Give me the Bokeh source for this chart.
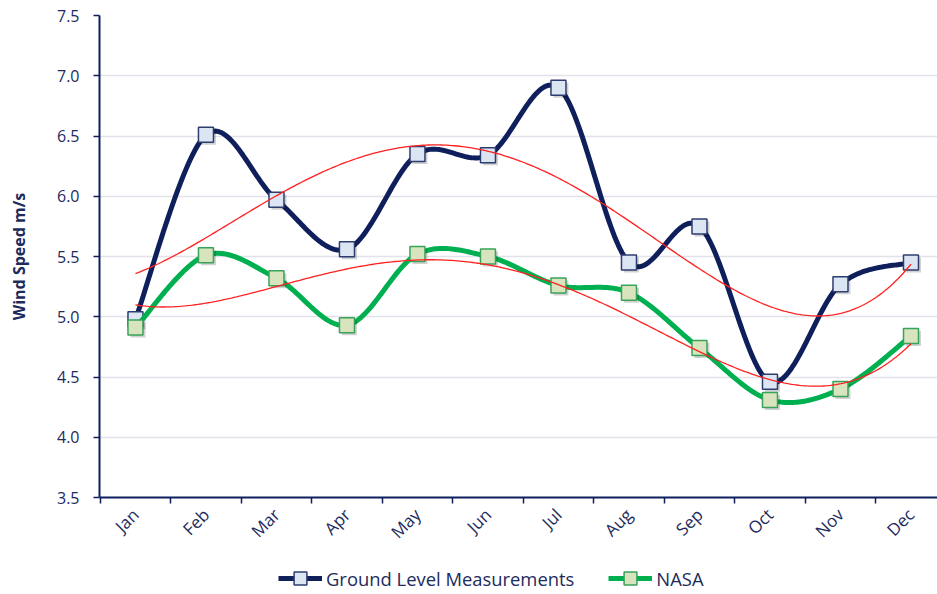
import numpy as np
from bokeh.plotting import figure
from bokeh.layouts import column
from bokeh.models import FixedTicker, Legend, LegendItem, Range1d
from bokeh.embed import file_html
from bokeh.resources import INLINE

months = ["Jan", "Feb", "Mar", "Apr", "May", "Jun", "Jul", "Aug", "Sep", "Oct", "Nov", "Dec"]
ground = [4.98, 6.51, 5.97, 5.56, 6.35, 6.34, 6.90, 5.45, 5.75, 4.46, 5.27, 5.45]
nasa = [4.91, 5.51, 5.32, 4.93, 5.52, 5.50, 5.26, 5.20, 4.74, 4.31, 4.40, 4.84]
y_ticks = [3.5, 4.0, 4.5, 5.0, 5.5, 6.0, 6.5, 7.0, 7.5]
y_tick_labels = ["3.5", "4.0", "4.5", "5.0", "5.5", "6.0", "6.5", "7.0", "7.5"]
series_names = ["Ground Level Measurements", "NASA"]
trend_order = 4

NAVY = "#0f1f5c"
TEXT = "#1d2a5c"
GREEN = "#00b050"
FONT = "Open Sans"
G_FILL, G_EDGE = "#dce6f2", "#2e3d70"
N_FILL, N_EDGE = "#d7e4bd", "#3aa35a"

x = np.arange(len(months), dtype=float)

# pixel scale of the frame (px per data unit), used so smoothing happens in screen space
SX, SY = 70.5, 120.5


def smooth(xv, yv, n=40):
    P = np.column_stack([np.asarray(xv) * SX, np.asarray(yv) * SY])
    out = []
    for i in range(len(P) - 1):
        p0 = P[i - 1] if i > 0 else P[i]
        p1, p2 = P[i], P[i + 1]
        p3 = P[i + 2] if i + 2 < len(P) else P[i + 1]
        c1 = p1 + (p2 - p0) / 6.0
        c2 = p2 - (p3 - p1) / 6.0
        t = np.linspace(0, 1, n)[:, None]
        seg = (1 - t) ** 3 * p1 + 3 * (1 - t) ** 2 * t * c1 + 3 * (1 - t) * t ** 2 * c2 + t ** 3 * p2
        out.append(seg if i == 0 else seg[1:])
    pts = np.vstack(out)
    return pts[:, 0] / SX, pts[:, 1] / SY


p = figure(width=937, height=556, x_range=Range1d(-0.51, 11.376), y_range=Range1d(3.5, 7.5),
           output_backend="svg", toolbar_location=None,
           min_border_left=99, min_border_right=0, min_border_top=15, min_border_bottom=59)
p.outline_line_color = None
p.background_fill_color = "white"

p.xgrid.visible = False
p.ygrid.ticker = FixedTicker(ticks=y_ticks[1:])
p.ygrid.grid_line_color = "#e2e2ea"
p.ygrid.grid_line_width = 1.5

ya = p.yaxis[0]
ya.ticker = FixedTicker(ticks=y_ticks)
ya.major_label_overrides = {t: l for t, l in zip(y_ticks, y_tick_labels)}
ya.minor_tick_line_color = None
ya.major_tick_out = 6
ya.major_tick_in = 0
ya.major_tick_line_color = NAVY
ya.major_tick_line_width = 1.5
ya.axis_line_color = NAVY
ya.axis_line_width = 2
ya.major_label_text_font = FONT
ya.major_label_text_font_size = "16px"
ya.major_label_text_color = TEXT
ya.major_label_standoff = 14
ya.axis_label = "Wind Speed m/s"
ya.axis_label_text_font = FONT
ya.axis_label_text_font_style = "bold"
ya.axis_label_text_font_size = "16px"
ya.axis_label_text_color = TEXT
ya.axis_label_standoff = 24

xa = p.xaxis[0]
xa.ticker = FixedTicker(ticks=list(x), minor_ticks=[v - 0.5 for v in x])
xa.major_label_overrides = {float(i): m for i, m in enumerate(months)}
xa.major_tick_out = 0
xa.major_tick_in = 0
xa.minor_tick_out = 6
xa.minor_tick_in = 0
xa.minor_tick_line_color = NAVY
xa.minor_tick_line_width = 1.5
xa.axis_line_color = NAVY
xa.axis_line_width = 2
xa.major_label_orientation = np.pi / 4
xa.major_label_text_font = FONT
xa.major_label_text_font_size = "17px"
xa.major_label_text_color = TEXT
xa.major_label_standoff = 8

# ground level
gx, gy = smooth(x, ground)
p.line(gx, gy, line_color=NAVY, line_width=5, line_join="round", line_cap="round")
p.scatter(x + 2.5 / SX, np.array(ground) - 2.5 / SY, marker="square", size=15,
          fill_color="black", fill_alpha=0.18, line_color=None)
p.scatter(x, ground, marker="square", size=15, fill_color=G_FILL, line_color=G_EDGE, line_width=1.5)

# NASA
nx, ny = smooth(x, nasa)
p.line(nx, ny, line_color=GREEN, line_width=5, line_join="round", line_cap="round")
p.scatter(x + 2.5 / SX, np.array(nasa) - 2.5 / SY, marker="square", size=15,
          fill_color="black", fill_alpha=0.18, line_color=None)
p.scatter(x, nasa, marker="square", size=15, fill_color=N_FILL, line_color=N_EDGE, line_width=1.5)

# polynomial trendlines
xs = np.linspace(0, 11, 300)
for series in (ground, nasa):
    coef = np.polyfit(x, series, trend_order)
    p.line(xs, np.polyval(coef, xs), line_color="#ff2020", line_width=1.3)

# legend strip below the chart (its glyph renderers lie outside the strip's ranges)
lf = figure(width=937, height=38, x_range=Range1d(100, 101), y_range=Range1d(100, 101),
            output_backend="svg", toolbar_location=None, x_axis_type=None, y_axis_type=None,
            min_border_left=0, min_border_right=0, min_border_top=0, min_border_bottom=0)
lf.outline_line_color = None
lf.xgrid.visible = False
lf.ygrid.visible = False
items = []
for name, vals, lc, fc, ec in zip(series_names, [ground, nasa], [NAVY, GREEN],
                                  [G_FILL, N_FILL], [G_EDGE, N_EDGE]):
    r1 = lf.line(x, vals, line_color=lc, line_width=5)
    r2 = lf.scatter(x, vals, marker="square", size=13, fill_color=fc, line_color=ec, line_width=1.5)
    items.append(LegendItem(label=name, renderers=[r1, r2]))

legend = Legend(items=items, orientation="horizontal", location=(179, 0))
legend.padding = 0
legend.margin = 0
legend.spacing = 34
legend.glyph_width = 44
legend.glyph_height = 32
legend.label_standoff = 4
legend.border_line_color = None
legend.background_fill_alpha = 0
legend.label_text_font = FONT
legend.label_text_font_size = "18.4px"
legend.label_text_color = TEXT
lf.add_layout(legend, "center")

open("out.html", "w").write(file_html(column(p, lf, spacing=0), INLINE))
